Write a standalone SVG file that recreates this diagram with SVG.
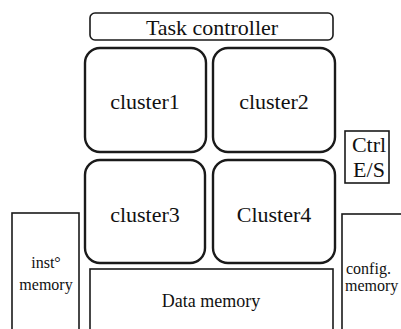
<svg xmlns="http://www.w3.org/2000/svg" width="401" height="329" viewBox="0 0 401 329">
  <style>
    .box { fill: #fff; stroke: #1a1a1a; }
    .cluster { stroke-width: 2.4; }
    .thin { stroke-width: 1.6; }
    text { font-family: "Liberation Serif", "DejaVu Serif", serif; fill: #111; }
    .big { font-size: 22px; text-anchor: middle; }
    .small { font-size: 16px; }
  </style>
  <rect width="401" height="329" fill="#fff"/>

  <g id="task-controller">
    <rect class="box thin" x="90" y="13" width="243" height="27" rx="5"/>
    <text class="big" x="212" y="35">Task controller</text>
  </g>

  <g id="cluster1">
    <rect class="box cluster" x="85" y="48" width="121" height="104" rx="15"/>
    <text class="big" x="145" y="109">cluster1</text>
  </g>
  <g id="cluster2">
    <rect class="box cluster" x="213" y="48" width="122" height="104" rx="15"/>
    <text class="big" x="274" y="109">cluster2</text>
  </g>
  <g id="cluster3">
    <rect class="box cluster" x="85" y="160" width="120" height="103" rx="15"/>
    <text class="big" x="145" y="222">cluster3</text>
  </g>
  <g id="cluster4">
    <rect class="box cluster" x="213" y="160" width="122" height="103" rx="15"/>
    <text class="big" x="274" y="222">Cluster4</text>
  </g>

  <g id="ctrl-es">
    <rect class="box thin" x="345" y="131" width="44" height="52"/>
    <text class="big" x="369" y="152">Ctrl</text>
    <text class="big" x="369" y="177">E/S</text>
  </g>

  <g id="inst-memory">
    <rect class="box thin" x="12" y="213" width="67" height="130"/>
    <text class="small" x="46" y="268" text-anchor="middle">inst°</text>
    <text class="small" x="46" y="290" text-anchor="middle">memory</text>
  </g>

  <g id="config-memory">
    <rect class="box thin" x="342" y="214" width="80" height="130"/>
    <text class="small" x="346" y="274">config.</text>
    <text class="small" x="345" y="291">memory</text>
  </g>

  <g id="data-memory">
    <rect class="box thin" x="90" y="269" width="243" height="80"/>
    <text x="211" y="307" text-anchor="middle" font-size="18">Data memory</text>
  </g>
</svg>
